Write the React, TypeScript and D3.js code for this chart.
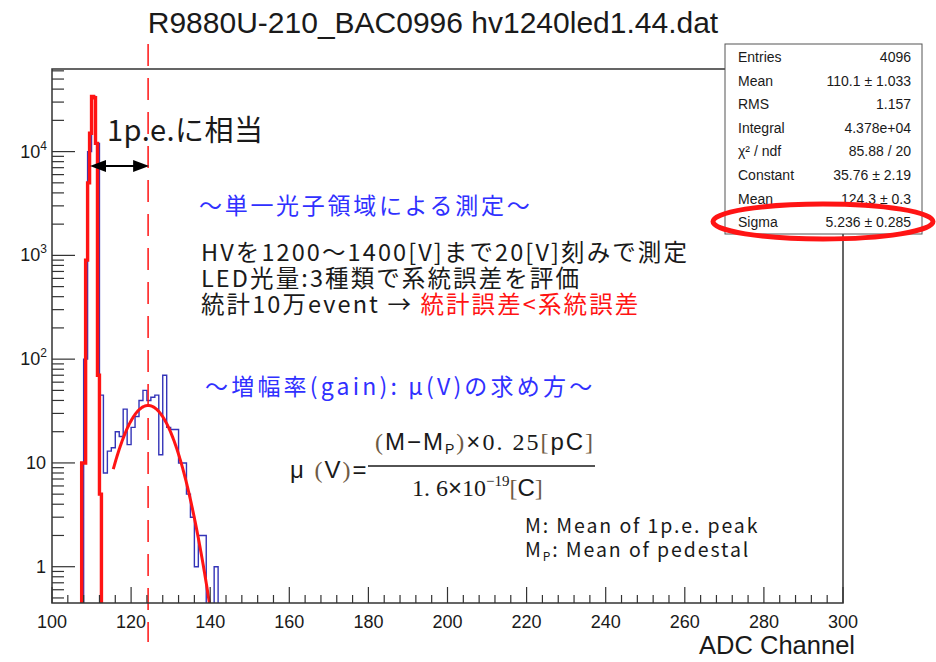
import React from 'react';
import * as d3 from 'd3';

const W = 936;
const H = 662;

// ADC spectrum (1 channel per bin, lower bin edges)
const binLow = [107, 108, 109, 110, 111, 112, 113, 114, 115, 116, 117, 118, 119, 120, 121, 122, 123, 124, 125, 126, 127, 128, 129, 130, 131, 132, 133, 134, 135, 136, 137, 138, 139, 140, 141];
const binCounts = [0, 100, 10000, 34000, 12000, 45, 8, 13, 14, 20, 18, 33, 15, 22, 28, 40, 50, 40, 43, 45, 12, 70, 22, 21, 21, 10, 10, 5, 3, 1, 2, 2, 0, 0, 1];

// pedestal histogram (half-channel bins, lower bin edges)
const pedLow = [107.5, 108, 108.5, 109, 109.5, 110, 110.5, 111, 111.5, 112];
const pedCounts = [10, 10, 900, 5000, 15000, 34000, 33000, 12000, 70, 5];

// Gaussian fit to the single photo-electron peak
const fitConstant = 35.76;
const fitMean = 124.3;
const fitSigma = 5.236;
const fitRange = [115.5, 145];

const xTicks = [100, 120, 140, 160, 180, 200, 220, 240, 260, 280, 300];
const yDecades = [1, 10, 100, 1000, 10000];
const yDecadeLabels = [['1', ''], ['10', ''], ['10', '2'], ['10', '3'], ['10', '4']];

const statLabels = ['Entries', 'Mean', 'RMS', 'Integral', 'χ² / ndf', 'Constant', 'Mean', 'Sigma'];
const statValues = ['4096', '110.1 ±  1.033', '1.157', '4.378e+04', '85.88 / 20', '35.76 ± 2.19', '124.3 ± 0.3', '5.236 ± 0.285'];

const SANS = '"Liberation Sans", Arial, Helvetica, sans-serif';
const JP = '"Noto Sans CJK JP", "Noto Sans", sans-serif';
const SERIF = '"Liberation Serif", "DejaVu Serif", serif';

const BLUE_HIST = '#3434b8';
const RED = '#ff1414';
const TEXT_BLUE = '#3030ff';
const INK = '#1a1a1a';
const PAREN = '#6e5a44';

export default function App() {
  const left = 52, right = 843, top = 69, bottom = 603;
  const x = d3.scaleLinear().domain([100, 300]).range([left, right]);
  const y = d3.scaleLog().domain([0.447, 62500]).range([bottom, top]);
  const yv = (v: number) => (v > 0 ? Math.min(bottom, y(v)) : bottom + 2);

  const stepPath = (lows: number[], width: number, counts: number[]) => {
    const pts: [number, number][] = [[x(lows[0]), bottom + 2]];
    lows.forEach((lo, i) => {
      pts.push([x(lo), yv(counts[i])]);
      pts.push([x(lo + width), yv(counts[i])]);
    });
    pts.push([x(lows[lows.length - 1] + width), bottom + 2]);
    return d3.line()(pts) || '';
  };

  const fitPts: [number, number][] = d3.range(fitRange[0], fitRange[1] + 0.01, 0.1).map((t) => {
    const g = fitConstant * Math.exp(-0.5 * ((t - fitMean) / fitSigma) ** 2);
    return [x(t), y(Math.max(g, 0.2))];
  });
  const fitPath = d3.line()(fitPts) || '';

  const xMinor = d3.range(100, 300.01, 4).filter((v) => v % 20 !== 0);
  const yMinor: number[] = [];
  [0.1, 1, 10, 100, 1000, 10000].forEach((d) => {
    for (let k = 2; k <= 9; k++) {
      const v = d * k;
      if (v >= 0.447 && v <= 62500) yMinor.push(v);
    }
  });

  const arrowY = 166;
  const arrowL = 90;
  const arrowR = x(fitMean) + 1;

  return (
    <div style={{ position: 'absolute', left: 0, top: 0 }}>
      <svg width={W} height={H} viewBox={`0 0 ${W} ${H}`} style={{ display: 'block', background: '#fff' }}>
        <defs>
          <clipPath id="frame-clip">
            <rect x={left} y={top} width={right - left} height={bottom - top} />
          </clipPath>
        </defs>
        <rect x={0} y={0} width={W} height={H} fill="#fff" />

        {/* title */}
        <text x={433} y={33} textAnchor="middle" fontFamily={SANS} fontSize={30} fill={INK}>
          R9880U-210_BAC0996 hv1240led1.44.dat
        </text>

        {/* histograms and fit */}
        <g clipPath="url(#frame-clip)">
          <path d={stepPath(binLow, 1, binCounts)} fill="none" stroke={BLUE_HIST} strokeWidth={1.4} />
          <path d={stepPath(pedLow, 0.5, pedCounts)} fill="none" stroke={RED} strokeWidth={3.4} strokeLinejoin="miter" />
          <path d={fitPath} fill="none" stroke={RED} strokeWidth={3} />
        </g>

        {/* fitted mean marker */}
        <line x1={x(fitMean)} x2={x(fitMean)} y1={44} y2={642} stroke={RED} strokeWidth={1.5} strokeDasharray="22 12" />

        {/* axes */}
        <g stroke="#333" strokeWidth={1.2}>
          {xTicks.map((t) => (
            <line key={`xt${t}`} x1={x(t)} x2={x(t)} y1={bottom} y2={bottom - 16} />
          ))}
          {xMinor.map((t) => (
            <line key={`xm${t}`} x1={x(t)} x2={x(t)} y1={bottom} y2={bottom - 8} />
          ))}
          {yDecades.map((t) => (
            <line key={`yt${t}`} x1={left} x2={left + 23} y1={y(t)} y2={y(t)} />
          ))}
          {yMinor.map((t) => (
            <line key={`ym${t}`} x1={left} x2={left + 12} y1={y(t)} y2={y(t)} />
          ))}
        </g>
        <rect x={left} y={top} width={right - left} height={bottom - top} fill="none" stroke="#333" strokeWidth={1.5} />

        {xTicks.map((t) => (
          <text key={`xl${t}`} x={x(t)} y={628} textAnchor="middle" fontFamily={SANS} fontSize={18} fill={INK}>
            {t}
          </text>
        ))}
        {yDecades.map((t, i) => (
          <text key={`yl${t}`} x={yDecadeLabels[i][1] ? 47 : 46} y={y(t) + 6} textAnchor="end" fontFamily={SANS} fontSize={18} fill={INK}>
            {yDecadeLabels[i][0]}
            {yDecadeLabels[i][1] && (
              <tspan dy={-8} fontSize={12}>
                {yDecadeLabels[i][1]}
              </tspan>
            )}
          </text>
        ))}
        <text x={855} y={654} textAnchor="end" fontFamily={SANS} fontSize={25.5} fill={INK}>
          ADC Channel
        </text>

        {/* 1 p.e. arrow */}
        <line x1={arrowL + 12} x2={arrowR - 12} y1={arrowY} y2={arrowY} stroke="#000" strokeWidth={2} />
        <path d={`M${arrowL},${arrowY} L${arrowL + 16},${arrowY - 6} L${arrowL + 16},${arrowY + 6} Z`} fill="#000" />
        <path d={`M${arrowR},${arrowY} L${arrowR - 16},${arrowY - 6} L${arrowR - 16},${arrowY + 6} Z`} fill="#000" />
        <text x={107} y={141} fontFamily={JP} fontSize={29} fill={INK} letterSpacing={0.5}>
          1p.e.に相当
        </text>

        {/* annotations */}
        <text x={199} y={214} fontFamily={JP} fontSize={23} fill={TEXT_BLUE} letterSpacing={2.7}>
          ～単一光子領域による測定～
        </text>
        <g fontFamily={JP} fontSize={23.5} fill={INK} letterSpacing={2.1}>
          <text x={201} y={261}>HVを1200～1400[V]まで20[V]刻みで測定</text>
          <text x={201} y={287}>LED光量:3種類で系統誤差を評価</text>
          <text x={201} y={313}>
            統計10万event → <tspan fill={RED}>統計誤差&lt;系統誤差</tspan>
          </text>
        </g>
        <text x={205} y={395} fontFamily={JP} fontSize={23} fill={TEXT_BLUE} letterSpacing={3.2}>
          ～増幅率(gain): μ(V)の求め方～
        </text>

        {/* gain formula */}
        <text x={290} y={478} fontSize={24} fill={INK} letterSpacing={2}>
          <tspan fontFamily={SANS}>μ </tspan>
          <tspan fontFamily={SERIF} fill={PAREN}>(</tspan>
          <tspan fontFamily={SANS}>V</tspan>
          <tspan fontFamily={SERIF} fill={PAREN}>)</tspan>
          <tspan fontFamily={SANS}>=</tspan>
        </text>
        <line x1={368} x2={595} y1={466} y2={466} stroke={INK} strokeWidth={1.5} />
        <text x={375} y={450} fontSize={24} fill={INK} letterSpacing={2}>
          <tspan fontFamily={SERIF} fill={PAREN}>(</tspan>
          <tspan fontFamily={SANS}>M</tspan>
          <tspan fontFamily={SANS}>−</tspan>
          <tspan fontFamily={SANS}>M</tspan>
          <tspan fontFamily={SANS} fontSize={14} dy={4}>P</tspan>
          <tspan fontFamily={SERIF} fill={PAREN} dy={-4}>)</tspan>
          <tspan fontFamily={SANS}>×</tspan>
          <tspan fontFamily={SERIF}>0. 25</tspan>
          <tspan fontFamily={SERIF} fill={PAREN}>[</tspan>
          <tspan fontFamily={SANS}>pC</tspan>
          <tspan fontFamily={SERIF} fill={PAREN}>]</tspan>
        </text>
        <text x={412} y={496} fontSize={24} fill={INK}>
          <tspan fontFamily={SERIF}>1. 6</tspan>
          <tspan fontFamily={SANS}>×</tspan>
          <tspan fontFamily={SERIF}>10</tspan>
          <tspan fontFamily={SERIF} fontSize={15} dy={-10}>−19</tspan>
          <tspan fontFamily={SERIF} fill={PAREN} dy={10}>[</tspan>
          <tspan fontFamily={SANS}>C</tspan>
          <tspan fontFamily={SERIF} fill={PAREN}>]</tspan>
        </text>

        <g fontFamily={JP} fontSize={19.5} fill={INK} letterSpacing={1.9}>
          <text x={525} y={533}>M: Mean of 1p.e. peak</text>
          <text x={525} y={557}>
            M<tspan fontSize={12} dy={4}>P</tspan>
            <tspan dy={-4}>: Mean of pedestal</tspan>
          </text>
        </g>

        {/* statistics box */}
        <rect x={725} y={44} width={197} height={190} fill="#fff" stroke="#555" strokeWidth={1} />
        {statLabels.map((lab, i) => (
          <g key={`st${i}`} fontFamily={SANS} fontSize={14} fill={INK}>
            <text x={738} y={62 + i * 23.6}>{lab}</text>
            <text x={911} y={62 + i * 23.6} textAnchor="end">
              {statValues[i]}
            </text>
          </g>
        ))}
        <ellipse cx={823} cy={221.5} rx={110} ry={17.5} fill="none" stroke={RED} strokeWidth={5} />
      </svg>
    </div>
  );
}
